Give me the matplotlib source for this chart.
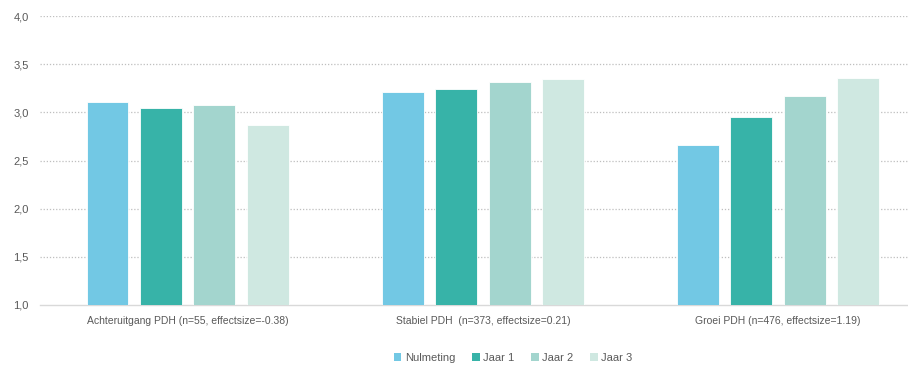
import numpy as np
import matplotlib
matplotlib.use("Agg")
import matplotlib.pyplot as plt
from matplotlib.patches import Patch

# data
groups = ["Achteruitgang PDH (n=55, effectsize=-0.38)",
          "Stabiel PDH  (n=373, effectsize=0.21)",
          "Groei PDH (n=476, effectsize=1.19)"]
series = ["Nulmeting", "Jaar 1", "Jaar 2", "Jaar 3"]
nulmeting = [3.11, 3.21, 2.66]
jaar1 = [3.04, 3.24, 2.95]
jaar2 = [3.08, 3.32, 3.17]
jaar3 = [2.87, 3.35, 3.36]
yticks = [1.0, 1.5, 2.0, 2.5, 3.0, 3.5, 4.0]
ytick_labels = ["1,0", "1,5", "2,0", "2,5", "3,0", "3,5", "4,0"]

colors = ["#72C8E4", "#37B3A8", "#A3D5CE", "#CFE8E1"]

plt.rcParams['font.family'] = ['Liberation Sans', 'DejaVu Sans']

fig = plt.figure(figsize=(9.08, 3.66), dpi=100)
ax = fig.add_axes([40 / 908, 1 - 305 / 366, 1 - 40 / 908, 289 / 366])

x = np.arange(len(groups))
step = 0.181
width = 0.142
for i, (vals, name) in enumerate(zip([nulmeting, jaar1, jaar2, jaar3], series)):
    ax.bar(x + (i - 1.5) * step, [v - 1.0 for v in vals], bottom=1.0, width=width,
           color=colors[i], edgecolor="#ffffff", linewidth=0.6, label=name, zorder=3)

ax.set_ylim(1.0, 4.0)
ax.set_xlim(-0.5, 2.44)
ax.set_yticks(yticks)
ax.set_yticklabels(ytick_labels)
ax.set_xticks(x)
ax.set_xticklabels(groups)
ax.tick_params(axis='both', length=0, labelcolor="#595959")
ax.tick_params(axis='x', pad=8, labelsize=7.5)
ax.tick_params(axis='y', pad=8, labelsize=8)

ax.yaxis.grid(True, linestyle=(0, (1, 1.5)), color="#BFBFBF", linewidth=0.9, zorder=0)
for ytk in ax.yaxis.get_gridlines()[:1]:
    ytk.set_visible(False)
for s in ["top", "right", "left"]:
    ax.spines[s].set_visible(False)
ax.spines["bottom"].set_color("#D9D9D9")
ax.spines["bottom"].set_linewidth(1.0)

handles = [Patch(facecolor=c, edgecolor="none") for c in colors]
fig.legend(handles, series, loc="center", bbox_to_anchor=(513 / 908, 1 - 358 / 366), ncol=4,
           frameon=False, fontsize=8, handlelength=0.7, handleheight=0.7,
           handletextpad=0.3, columnspacing=1.5, labelcolor="#595959")

fig.savefig("out.png", dpi=100)
